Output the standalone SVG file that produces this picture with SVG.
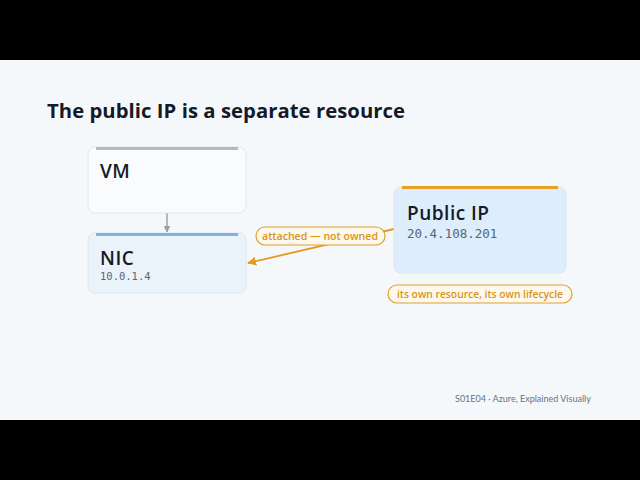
<svg xmlns="http://www.w3.org/2000/svg" width="640" height="480" viewBox="0 0 640 480">
<style>
.sans{font-family:"Lato","Open Sans",sans-serif}
.os{font-family:"Open Sans","Lato",sans-serif}
.mono{font-family:"DejaVu Sans Mono","Liberation Mono",monospace;fill:#5a6472}
.title{font-size:20.3px;font-weight:700;fill:#141a26}
.name{font-size:19px;font-weight:600;fill:#141a26;letter-spacing:0.5px}
.pill{fill:#fdf8ee;stroke:#e0a030;stroke-width:1.2}
.pilltext{font-size:10.5px;font-weight:600;fill:#d9941c}
.card{stroke:#dde6ee;stroke-width:1}
</style>
<defs>
<marker id="ag" viewBox="0 0 10 10" refX="9" refY="5" markerWidth="7" markerHeight="7" orient="auto" markerUnits="userSpaceOnUse"><path d="M0,0 L10,5 L0,10 z" fill="#9aa3ad"/></marker>
<marker id="ao" viewBox="0 0 10 10" refX="9" refY="5" markerWidth="9" markerHeight="9" orient="auto" markerUnits="userSpaceOnUse"><path d="M0,0 L10,5 L0,10 z" fill="#e39a1e"/></marker>
</defs>
<rect x="0" y="0" width="640" height="480" fill="#000"/>
<rect x="0" y="60" width="640" height="360" fill="#f5f8fb"/>
<text class="os title" x="47" y="118" textLength="358" lengthAdjust="spacing">The public IP is a separate resource</text>
<g id="connectors">
<line x1="167" y1="213" x2="167" y2="232" stroke="#9aa3ad" stroke-width="1.5" marker-end="url(#ag)"/>
<line x1="394" y1="229" x2="248" y2="263" stroke="#e39a1e" stroke-width="1.8" marker-end="url(#ao)"/>
</g>
<g id="vm">
<rect class="card" x="88" y="147" width="158" height="66" rx="7" fill="#f9fbfc"/>
<rect x="96" y="147" width="142" height="3" fill="#b4b9bf"/>
<text class="os name" x="100" y="178">VM</text>
</g>
<g id="nic">
<rect class="card" x="88" y="233" width="158" height="60" rx="7" fill="#ebf3fa"/>
<rect x="96" y="233" width="142" height="3" fill="#7db4e0"/>
<text class="os name" x="100" y="265">NIC</text>
<text class="mono" x="100" y="280" font-size="10.5">10.0.1.4</text>
</g>
<g id="publicip">
<rect class="card" x="394" y="187" width="172" height="86" rx="7" fill="#ddedfb"/>
<rect x="402" y="186" width="156" height="3" fill="#e8a020"/>
<text class="os name" x="407" y="220">Public IP</text>
<text class="mono" x="407" y="238" font-size="12.5">20.4.108.201</text>
</g>
<g id="label-attached">
<rect class="pill" x="256" y="227" width="129" height="18" rx="9"/>
<text class="os pilltext" x="262" y="239.5" textLength="116" lengthAdjust="spacingAndGlyphs">attached — not owned</text>
</g>
<g id="label-lifecycle">
<rect class="pill" x="388" y="285" width="184" height="18" rx="9"/>
<text class="os pilltext" x="397" y="297.5" textLength="166" lengthAdjust="spacingAndGlyphs">its own resource, its own lifecycle</text>
</g>
<text class="sans" x="455" y="402" font-size="9" fill="#6a7280">S01E04 · Azure, Explained Visually</text>
</svg>
